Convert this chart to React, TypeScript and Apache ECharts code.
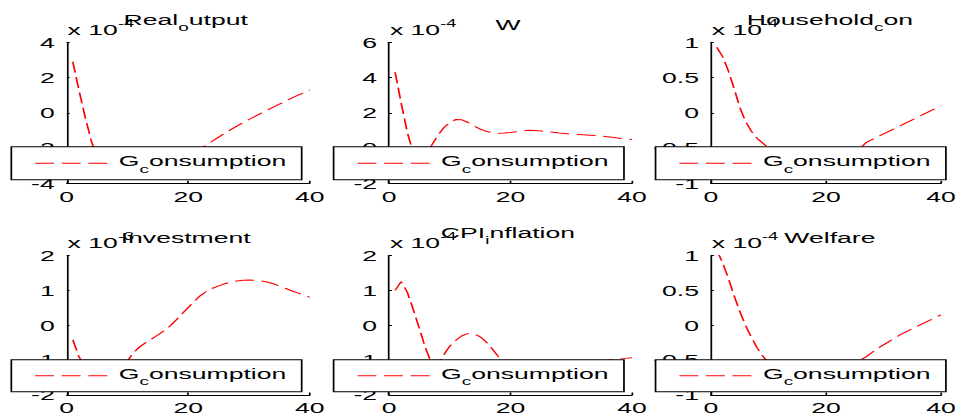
import React, { useEffect, useRef } from "react";
import * as echarts from "echarts";

// ---------- data ----------
const periods = [
  1, 2, 3, 4, 5, 6, 7, 8, 9, 10, 11, 12, 13, 14, 15, 16, 17, 18, 19, 20,
  21, 22, 23, 24, 25, 26, 27, 28, 29, 30, 31, 32, 33, 34, 35, 36, 37, 38, 39, 40,
];
const titles = ["Real_output", "W", "Household_con", "Investment", "CPI_inflation", "Welfare"];
const exponents = ["-4", "-4", "-4", "-3", "-4", "-4"];
const seriesName = "G_consumption";

const realOutput = [
  2.9, 1.3, -0.2, -1.55, -2.6, -3.2, -3.5, -3.6, -3.6, -3.55, -3.45, -3.35, -3.2, -3.05, -2.9, -2.75,
  -2.6, -2.45, -2.3, -2.2, -2.1, -2.05, -1.82, -1.6, -1.38, -1.17, -0.96, -0.76, -0.57, -0.38, -0.2,
  -0.02, 0.15, 0.32, 0.49, 0.66, 0.83, 0.99, 1.14, 1.3,
];
const wage = [
  4.3, 2.55, 0.9, -0.3, -0.85, -0.6, 0.15, 0.7, 1.15, 1.45, 1.62, 1.6, 1.45, 1.25, 1.08, 0.95, 0.87,
  0.84, 0.85, 0.88, 0.93, 0.98, 1.01, 1.0, 0.97, 0.93, 0.89, 0.85, 0.82, 0.79, 0.77, 0.75, 0.73, 0.71,
  0.68, 0.64, 0.6, 0.56, 0.52, 0.48,
];
const householdCon = [
  0.93, 0.8, 0.6, 0.35, 0.08, -0.12, -0.26, -0.36, -0.43, -0.5, -0.56, -0.61, -0.65, -0.68, -0.7, -0.71,
  -0.71, -0.7, -0.69, -0.67, -0.65, -0.63, -0.6, -0.58, -0.55, -0.5, -0.42, -0.38, -0.34, -0.3, -0.26,
  -0.22, -0.18, -0.14, -0.1, -0.06, -0.02, 0.02, 0.06, 0.1,
];
const investment = [
  -0.42, -0.9, -1.2, -1.4, -1.5, -1.5, -1.45, -1.35, -1.2, -1.02, -0.78, -0.62, -0.5, -0.39, -0.28,
  -0.16, -0.02, 0.15, 0.33, 0.51, 0.69, 0.85, 0.97, 1.06, 1.13, 1.19, 1.24, 1.27, 1.29, 1.3, 1.29, 1.27,
  1.24, 1.19, 1.13, 1.06, 0.99, 0.93, 0.87, 0.8,
];
const cpiInflation = [
  1.0, 1.25, 0.95, 0.45, -0.1, -0.65, -1.1, -1.15, -0.85, -0.6, -0.43, -0.3, -0.24, -0.24, -0.33, -0.48,
  -0.68, -0.9, -1.1, -1.25, -1.35, -1.4, -1.42, -1.42, -1.4, -1.37, -1.33, -1.29, -1.25, -1.21, -1.17,
  -1.13, -1.09, -1.06, -1.03, -1.0, -0.98, -0.965, -0.95, -0.93,
];
const welfare = [
  1.08, 0.9, 0.68, 0.43, 0.2, 0.0, -0.17, -0.32, -0.44, -0.54, -0.62, -0.68, -0.73, -0.76, -0.78, -0.79,
  -0.79, -0.78, -0.76, -0.73, -0.7, -0.66, -0.62, -0.58, -0.54, -0.5, -0.45, -0.39, -0.33, -0.28, -0.23,
  -0.18, -0.13, -0.09, -0.05, -0.01, 0.03, 0.07, 0.11, 0.15,
];
const panelValues = [realOutput, wage, householdCon, investment, cpiInflation, welfare];

const yMin = [-4, -2, -1, -2, -2, -1];
const yMax = [4, 6, 1, 2, 2, 1];
const yStep = [2, 2, 0.5, 1, 1, 0.5];
const xMin = 0;
const xMax = 40;
const xStep = 20;

// ---------- layout (pre-stretch coordinates; whole chart stretched horizontally) ----------
const SX = 961 / 560;
const FONT = '"Liberation Sans", Arial, Helvetica, sans-serif';
const FS = 15.5;
const COL_LEFT = [38.9, 226.7, 414.3];
const GRID_W = 141.6;
const ROW_TOP = [42.3, 255.5];
const ROW_H = [141, 142];
const LEG_TOP = [146.7, 359.7];
const LEG_H = [33, 32];
const DASH = [11, 4.5];

function toRich(s: string, main: string, sub: string): string {
  const i = s.indexOf("_");
  if (i < 0) return `{${main}|${s}}`;
  return `{${main}|${s.slice(0, i)}}{${sub}|${s[i + 1]}}{${main}|${s.slice(i + 2)}}`;
}

const richTitle = {
  m: { fontSize: FS, fontFamily: FONT, lineHeight: 16, verticalAlign: "top", fill: "#000" },
  s: { fontSize: 11, fontFamily: FONT, lineHeight: 11, padding: [10.5, 0, 0, 0], verticalAlign: "top", fill: "#000" },
};
const richExp = {
  a: { fontSize: FS, fontFamily: FONT, lineHeight: 16, padding: [3.5, 0, 0, 0], verticalAlign: "top", fill: "#000" },
  b: { fontSize: 10.5, fontFamily: FONT, lineHeight: 10, verticalAlign: "top", fill: "#000" },
};

export default function App() {
  const ref = useRef<HTMLDivElement>(null);

  useEffect(() => {
    if (!ref.current) return;
    const chart = echarts.init(ref.current, undefined, { renderer: "svg" });

    const grids: any[] = [];
    const xAxes: any[] = [];
    const yAxes: any[] = [];
    const series: any[] = [];
    const graphics: any[] = [];

    for (let i = 0; i < 6; i++) {
      const c = i % 3;
      const r = Math.floor(i / 3);
      const left = COL_LEFT[c];
      const top = ROW_TOP[r];
      grids.push({ left, top, width: GRID_W, height: ROW_H[r], containLabel: false });
      xAxes.push({
        gridIndex: i,
        type: "value",
        min: xMin,
        max: xMax,
        interval: xStep,
        axisLine: { show: true, onZero: false, lineStyle: { color: "#000", width: 1 } },
        axisTick: { show: true, inside: true, length: 2.5, lineStyle: { color: "#000" } },
        axisLabel: { color: "#000", fontSize: FS, fontFamily: FONT, margin: 5, showMinLabel: true, showMaxLabel: true },
        splitLine: { show: false },
      });
      yAxes.push({
        gridIndex: i,
        type: "value",
        min: yMin[i],
        max: yMax[i],
        interval: yStep[i],
        axisLine: { show: true, onZero: false, lineStyle: { color: "#000", width: 1 } },
        axisTick: { show: true, inside: true, length: 1.7, lineStyle: { color: "#000" } },
        axisLabel: { color: "#000", fontSize: FS, fontFamily: FONT, margin: 7, showMinLabel: true, showMaxLabel: true },
        splitLine: { show: false },
      });
      series.push({
        type: "line",
        name: seriesName,
        xAxisIndex: i,
        yAxisIndex: i,
        data: periods.map((p, k) => [p, panelValues[i][k]]),
        symbol: "none",
        showSymbol: false,
        clip: true,
        silent: true,
        lineStyle: { color: "#ff0000", width: 1, type: DASH },
      });

      const hasSub = titles[i].indexOf("_") >= 0;
      graphics.push({
        type: "text",
        z: 100,
        x: left + GRID_W / 2 - 1.5,
        y: hasSub ? top - 31 : top - 25.5,
        style: {
          text: toRich(titles[i], "m", "s"),
          rich: richTitle,
          align: "center",
          textAlign: "center",
          verticalAlign: "top",
          textVerticalAlign: "top",
          fill: "#000",
        },
      });
      graphics.push({
        type: "text",
        z: 100,
        x: left + 0.5,
        y: top - 24.5,
        style: {
          text: `{a|x 10}{b|${exponents[i]}}`,
          rich: richExp,
          align: "left",
          textAlign: "left",
          verticalAlign: "top",
          textVerticalAlign: "top",
          fill: "#000",
        },
      });

      const lt = LEG_TOP[r];
      const lh = LEG_H[r];
      const mid = lt + lh / 2;
      graphics.push({
        type: "rect",
        z: 100,
        shape: { x: left - 32.3, y: lt, width: 169.2, height: lh },
        style: { fill: "#ffffff", stroke: "#000000", lineWidth: 1 },
      });
      graphics.push({
        type: "line",
        z: 101,
        shape: { x1: left - 18.4, y1: mid, x2: left + 25.3, y2: mid },
        style: { stroke: "#ff0000", lineWidth: 1, lineDash: DASH },
      });
      graphics.push({
        type: "text",
        z: 101,
        x: left + 30.3,
        y: mid + 3 - 13.4,
        style: {
          text: toRich(seriesName, "m", "s"),
          rich: richTitle,
          align: "left",
          textAlign: "left",
          verticalAlign: "top",
          textVerticalAlign: "top",
          fill: "#000",
        },
      });
    }

    chart.setOption({
      animation: false,
      backgroundColor: "#ffffff",
      grid: grids,
      xAxis: xAxes,
      yAxis: yAxes,
      series,
      graphic: { elements: graphics },
    });

    return () => chart.dispose();
  }, []);

  return (
    <div
      ref={ref}
      style={{
        position: "absolute",
        left: 0,
        top: 0,
        width: 560,
        height: 416,
        transform: `scaleX(${SX})`,
        transformOrigin: "0 0",
      }}
    />
  );
}
